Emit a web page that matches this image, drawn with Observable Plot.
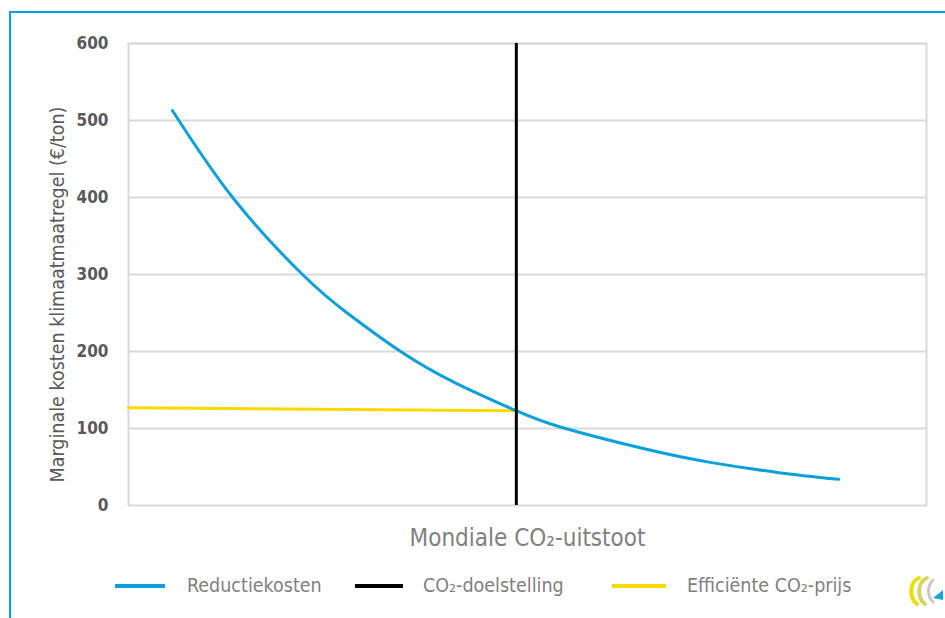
<!DOCTYPE html>
<html>
<head>
<meta charset="utf-8">
<script src="https://cdn.jsdelivr.net/npm/d3@7"></script>
<script src="https://cdn.jsdelivr.net/npm/@observablehq/plot@0.6"></script>
<style>
  html, body { margin: 0; padding: 0; background: #fff; }
  #wrap { position: relative; width: 945px; height: 618px; overflow: hidden; font-family: "DejaVu Sans Condensed", "DejaVu Sans", sans-serif; }
  #frame { position: absolute; left: 9px; top: 11px; width: 960px; height: 640px; border-left: 2px solid #00a3e0; border-top: 2px solid #00a3e0; }
  #chart { position: absolute; left: 0; top: 0; }
  .leg { position: absolute; top: 574px; height: 24px; line-height: 24px; font-size: 19.5px; color: #7f7f7f; white-space: nowrap; }
  .sw { position: absolute; top: 584px; height: 4px; }
</style>
</head>
<body>
<div id="wrap">
  <div id="frame"></div>
  <div id="chart"></div>
  <div id="legend"></div>
  <svg id="logo" style="position:absolute;left:905px;top:572px" width="40" height="36" viewBox="0 0 40 36">
    <path d="M14 6 C4 10 4 26 12 32" fill="none" stroke="#e8e000" stroke-width="4" stroke-linecap="round"/>
    <path d="M22 6 C12 10 12 26 20 32" fill="none" stroke="#d4d46a" stroke-width="4" stroke-linecap="round"/>
    <path d="M28 8 C22 14 22 24 28 30" fill="none" stroke="#c8c8c8" stroke-width="3" stroke-linecap="round"/>
    <path d="M28 26 L38 18 L38 28 Z" fill="#1aa6dc"/>
  </svg>
</div>
<script>
// Data (x: arbitrary 0-100 emission scale, y: €/ton)
const reductionX = [5.5, 13.2, 21.9, 27.4, 34.1, 41.0, 48.6, 54.1, 64.5, 72.9, 81.3, 89.0];
const reductionY = [513, 398, 299, 250, 200, 159, 123, 102, 74, 56, 43, 34];
const priceX = [0, 48.6];
const priceY = [127, 123];
const targetX = [48.6];
const yTicks = [0, 100, 200, 300, 400, 500, 600];
const gridTicks = [100, 200, 300, 400, 500, 600];
const seriesNames = ["Reductiekosten", "CO₂-doelstelling", "Efficiënte CO₂-prijs"];
const seriesColors = ["#0aa1da", "#000000", "#ffd800"];
const xTitle = "Mondiale CO₂-uitstoot";
const yTitle = "Marginale kosten klimaatmaatregel (€/ton)";

const reduction = reductionX.map((x, i) => ({x, y: reductionY[i]}));
const price = priceX.map((x, i) => ({x, y: priceY[i]}));

const chart = Plot.plot({
  width: 945,
  height: 560,
  marginLeft: 128,
  marginRight: 19,
  marginTop: 43,
  marginBottom: 55,
  style: { fontFamily: '"DejaVu Sans Condensed", "DejaVu Sans", sans-serif', background: "transparent", overflow: "visible" },
  x: { domain: [0, 100], axis: null },
  y: { domain: [0, 600], axis: null },
  marks: [
    Plot.ruleY(gridTicks, { stroke: "#d9d9d9", strokeWidth: 2 }),
    Plot.frame({ stroke: "#d9d9d9", strokeWidth: 2 }),
    Plot.line(price, { x: "x", y: "y", stroke: seriesColors[2], strokeWidth: 3 }),
    Plot.line(reduction, { x: "x", y: "y", stroke: seriesColors[0], strokeWidth: 3, curve: "natural" }),
    Plot.ruleX(targetX, { stroke: seriesColors[1], strokeWidth: 3 }),
    Plot.axisY({ ticks: yTicks, tickSize: 0, tickPadding: 20, label: null, fontSize: 17, fontWeight: "bold", color: "#595959" }),
    Plot.text([xTitle], { frameAnchor: "bottom", dy: 40, fontSize: 24, fill: "#808080" }),
    Plot.text([yTitle], { frameAnchor: "left", textAnchor: "middle", rotate: -90, dx: -71, dy: 20, fontSize: 19.5, fill: "#595959" })
  ]
});
document.getElementById("chart").appendChild(chart);

// Legend
const legend = document.getElementById("legend");
const swatchPos = [[115, 50], [355, 48], [612, 54]];
const textPos = [187, 423, 687];
seriesNames.forEach((name, i) => {
  const sw = document.createElement("div");
  sw.className = "sw";
  sw.style.left = swatchPos[i][0] + "px";
  sw.style.width = swatchPos[i][1] + "px";
  sw.style.background = seriesColors[i];
  legend.appendChild(sw);
  const t = document.createElement("div");
  t.className = "leg";
  t.style.left = textPos[i] + "px";
  t.textContent = name;
  legend.appendChild(t);
});
</script>
</body>
</html>
